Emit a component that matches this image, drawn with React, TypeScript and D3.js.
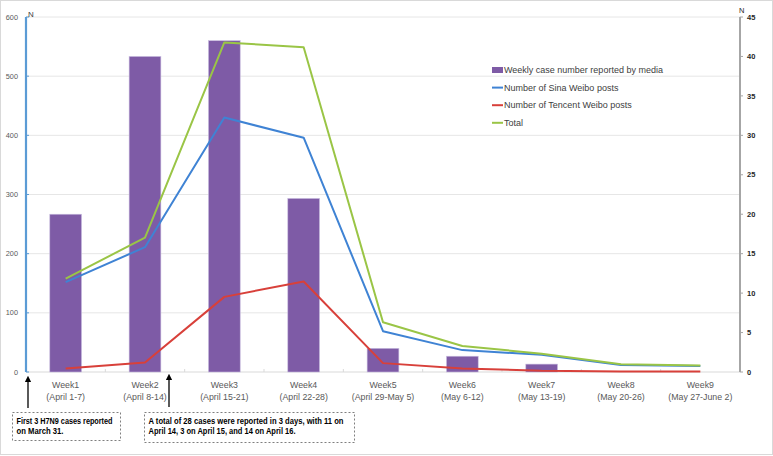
import React, { useEffect, useRef } from "react";
import * as d3 from "d3";

// weekly categories
const weeks = ["Week1", "Week2", "Week3", "Week4", "Week5", "Week6", "Week7", "Week8", "Week9"];
const weekDates = [
  "(April 1-7)",
  "(April 8-14)",
  "(April 15-21)",
  "(April 22-28)",
  "(April 29-May 5)",
  "(May 6-12)",
  "(May 13-19)",
  "(May 20-26)",
  "(May 27-June 2)",
];

// right axis (cases)
const mediaCases = [20, 40, 42, 22, 3, 2, 1, 0, 0];
// left axis (posts)
const sinaPosts = [152, 211, 430, 396, 69, 37, 29, 12, 10];
const tencentPosts = [6, 16, 127, 153, 15, 6, 2, 1, 1];
const totalPosts = [158, 227, 557, 549, 84, 44, 31, 13, 11];

const leftTicks = [0, 100, 200, 300, 400, 500, 600];
const rightTicks = [0, 5, 10, 15, 20, 25, 30, 35, 40, 45];

const legendItems = [
  { label: "Weekly case number reported by media", color: "#7e5ba6", kind: "bar" },
  { label: "Number of Sina Weibo posts", color: "#3f83d4", kind: "line" },
  { label: "Number of Tencent Weibo posts", color: "#d8403a", kind: "line" },
  { label: "Total", color: "#9ac546", kind: "line" },
];

const W = 773;
const H = 456;

export default function App() {
  const ref = useRef<SVGSVGElement>(null);

  useEffect(() => {
    const svg = d3.select(ref.current);
    svg.selectAll("*").remove();
    const font = "'Liberation Sans', Arial, sans-serif";

    const left = 26, right = 740, top = 17, bottom = 372;

    const x = d3.scaleBand().domain(weeks).range([left, right]).padding(0);
    const cx = (i: number) => (x(weeks[i]) as number) + x.bandwidth() / 2;
    const yL = d3.scaleLinear().domain([0, 600]).range([bottom, top]);
    const yR = d3.scaleLinear().domain([0, 45]).range([bottom, top]);

    // chart border
    svg.append("rect")
      .attr("x", 0.5).attr("y", 0.5)
      .attr("width", W - 1).attr("height", H - 2)
      .attr("fill", "#fff").attr("stroke", "#d9d9d9");

    // gridlines
    svg.append("g")
      .selectAll("line")
      .data(leftTicks.slice(1))
      .enter()
      .append("line")
      .attr("x1", left).attr("x2", right)
      .attr("y1", (d) => yL(d)).attr("y2", (d) => yL(d))
      .attr("stroke", "#e6e6e6").attr("stroke-width", 1);

    // baseline + category ticks
    svg.append("line")
      .attr("x1", left).attr("x2", right)
      .attr("y1", bottom).attr("y2", bottom)
      .attr("stroke", "#d9d9d9").attr("stroke-width", 1);
    svg.append("g")
      .selectAll("line")
      .data(weeks.slice(1))
      .enter()
      .append("line")
      .attr("x1", (d) => x(d) as number).attr("x2", (d) => x(d) as number)
      .attr("y1", bottom - 3).attr("y2", bottom)
      .attr("stroke", "#d9d9d9");

    // bars
    const bw = x.bandwidth() * 0.4;
    svg.append("g")
      .selectAll("rect")
      .data(mediaCases)
      .enter()
      .append("rect")
      .attr("x", (d, i) => cx(i) - bw / 2)
      .attr("y", (d) => yR(d))
      .attr("width", bw)
      .attr("height", (d) => bottom - yR(d))
      .attr("fill", "#7e5ba6")
      .attr("stroke", "#c9bde0")
      .attr("stroke-width", (d) => (d > 0 ? 0.6 : 0));

    // lines
    const line = d3.line<number>().x((d, i) => cx(i)).y((d) => yL(d));
    const series = [
      { data: tencentPosts, color: "#d8403a" },
      { data: sinaPosts, color: "#3f83d4" },
      { data: totalPosts, color: "#9ac546" },
    ];
    series.forEach((s) => {
      svg.append("path")
        .attr("d", line(s.data))
        .attr("fill", "none")
        .attr("stroke", s.color)
        .attr("stroke-width", 2)
        .attr("stroke-linejoin", "round");
    });

    // left axis
    svg.append("line")
      .attr("x1", left).attr("x2", left)
      .attr("y1", top).attr("y2", bottom)
      .attr("stroke", "#5b9bd5").attr("stroke-width", 2.2);
    const gl = svg.append("g");
    leftTicks.forEach((t) => {
      gl.append("line")
        .attr("x1", left).attr("x2", left + 3)
        .attr("y1", yL(t)).attr("y2", yL(t))
        .attr("stroke", "#5b9bd5");
      gl.append("text")
        .attr("x", 18).attr("y", yL(t) + 2.6)
        .attr("text-anchor", "end")
        .attr("font-family", font).attr("font-size", 7.3)
        .attr("fill", "#595959")
        .text(t);
    });
    svg.append("text")
      .attr("x", 28).attr("y", 17)
      .attr("font-family", font).attr("font-size", 8)
      .attr("fill", "#404040")
      .text("N");

    // right axis
    svg.append("line")
      .attr("x1", right).attr("x2", right)
      .attr("y1", top).attr("y2", bottom)
      .attr("stroke", "#a6a6a6").attr("stroke-width", 2);
    const gr = svg.append("g");
    rightTicks.forEach((t) => {
      gr.append("line")
        .attr("x1", right).attr("x2", right + 3)
        .attr("y1", yR(t)).attr("y2", yR(t))
        .attr("stroke", "#a6a6a6");
      gr.append("text")
        .attr("x", 747).attr("y", yR(t) + 2.7)
        .attr("font-family", font).attr("font-size", 7.5)
        .attr("font-weight", "bold")
        .attr("fill", "#262626")
        .text(t);
    });
    svg.append("text")
      .attr("x", 739).attr("y", 13)
      .attr("font-family", font).attr("font-size", 7.5)
      .attr("fill", "#262626")
      .text("N");

    // x labels
    const gx = svg.append("g");
    weeks.forEach((w, i) => {
      gx.append("text")
        .attr("x", cx(i)).attr("y", 388)
        .attr("text-anchor", "middle")
        .attr("font-family", font).attr("font-size", 8.8)
        .attr("fill", "#595959")
        .text(w);
      gx.append("text")
        .attr("x", cx(i)).attr("y", 400)
        .attr("text-anchor", "middle")
        .attr("font-family", font).attr("font-size", 8.8)
        .attr("fill", "#595959")
        .text(weekDates[i]);
    });

    // legend
    const lg = svg.append("g");
    legendItems.forEach((it, i) => {
      const ly = 70 + i * 17.6;
      if (it.kind === "bar") {
        lg.append("rect")
          .attr("x", 492).attr("y", ly - 3)
          .attr("width", 11).attr("height", 6)
          .attr("fill", it.color);
      } else {
        lg.append("line")
          .attr("x1", 492).attr("x2", 503)
          .attr("y1", ly).attr("y2", ly)
          .attr("stroke", it.color).attr("stroke-width", 2);
      }
      lg.append("text")
        .attr("x", 504).attr("y", ly + 3.2)
        .attr("font-family", font).attr("font-size", 9)
        .attr("fill", "#404040")
        .text(it.label);
    });

    // annotations
    const defs = svg.append("defs");
    defs.append("marker")
      .attr("id", "arrowhead")
      .attr("viewBox", "0 0 10 10")
      .attr("refX", 5).attr("refY", 5)
      .attr("markerWidth", 5).attr("markerHeight", 5)
      .attr("orient", "auto")
      .append("path")
      .attr("d", "M0,0 L10,5 L0,10 z")
      .attr("fill", "#000");

    const arrows = [
      { x: 28, y1: 408, y2: 379 },
      { x: 169, y1: 407, y2: 377 },
    ];
    arrows.forEach((a) => {
      svg.append("line")
        .attr("x1", a.x).attr("x2", a.x)
        .attr("y1", a.y1).attr("y2", a.y2)
        .attr("stroke", "#000").attr("stroke-width", 1.3)
        .attr("marker-end", "url(#arrowhead)");
    });

    const boxes = [
      { x: 12.5, y: 412.5, w: 108, h: 28, lines: ["First 3 H7N9 cases reported", "on March 31."], lens: [96, 47] },
      {
        x: 144.5, y: 412.5, w: 210, h: 30,
        lines: ["A total of 28 cases were reported in 3 days, with 11 on", "April 14, 3 on April 15, and 14 on April 16."],
        lens: [195, 147],
      },
    ];
    boxes.forEach((b) => {
      svg.append("rect")
        .attr("x", b.x).attr("y", b.y)
        .attr("width", b.w).attr("height", b.h)
        .attr("fill", "#fff")
        .attr("stroke", "#7f7f7f")
        .attr("stroke-dasharray", "2,2");
      b.lines.forEach((t, j) => {
        svg.append("text")
          .attr("x", b.x + 4).attr("y", 424 + j * 10.3)
          .attr("font-family", font).attr("font-size", 8.2)
          .attr("font-weight", "bold")
          .attr("fill", "#000")
          .attr("textLength", b.lens[j])
          .attr("lengthAdjust", "spacingAndGlyphs")
          .text(t);
      });
    });
  }, []);

  return (
    <svg
      ref={ref}
      width={W}
      height={H}
      style={{ position: "absolute", left: 0, top: 0, background: "#fff" }}
    ></svg>
  );
}
